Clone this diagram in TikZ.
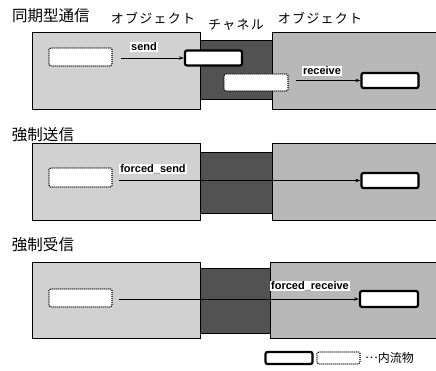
\documentclass[tikz,border=0pt]{standalone}
\usepackage{fontspec}
\setmainfont{Liberation Sans}
\newfontfamily\jp{Noto Sans CJK JP}
\newfontfamily\jpw[LetterSpace=10]{Noto Sans CJK JP}
\usetikzlibrary{arrows.meta}
\definecolor{objL}{gray}{0.82}
\definecolor{objR}{gray}{0.72}
\definecolor{chan}{gray}{0.32}
\tikzset{
  objbox/.style={draw=black,line width=0.7pt},
  dotbox/.style={draw=black,dash pattern=on 1pt off 1pt,line width=1.1pt,fill=white,rounded corners=1.5pt,inner sep=0pt},
  thickbox/.style={draw=black,line width=2.2pt,fill=white,rounded corners=2pt,inner sep=0pt},
  msg/.style={-{Stealth[length=5pt,width=3.5pt]},line width=0.9pt},
  lbl/.style={font=\bfseries\fontsize{11}{12}\selectfont,fill=white,inner sep=0.8pt},
  ttl/.style={font=\jp\fontsize{15.5}{16}\selectfont,inner sep=0pt},
  hdr/.style={font=\jpw\fontsize{13}{14}\selectfont,inner sep=0pt}
}
\begin{document}
\begin{tikzpicture}[x=1pt,y=-1pt]
\useasboundingbox (0,0) rectangle (436,371);
\fill[white] (0,0) rectangle (436,371);
% ---------- panel 1 ----------
\node[ttl] (t1) at (51,16) {同期型通信};
\node[hdr] (h1) at (153,18) {オブジェクト};
\node[hdr] (h2) at (236,25) {チャネル};
\node[hdr] (h3) at (320,18) {オブジェクト};
\filldraw[objbox,fill=objL] (32,32) rectangle (200,109);
\filldraw[objbox,fill=chan] (200,40) rectangle (272,99);
\filldraw[objbox,fill=objR] (272,32) rectangle (440,109);
\node[dotbox,minimum width=63pt,minimum height=18pt] (d1) at (80.5,57) {};
\node[thickbox,minimum width=57pt,minimum height=15pt] (k1) at (213.5,58) {};
\node[dotbox,minimum width=64pt,minimum height=17pt] (d1b) at (256,82.5) {};
\node[thickbox,minimum width=57pt,minimum height=15pt] (k1b) at (390,80.5) {};
\draw[msg] ([xshift=8pt]d1.east |- k1.west) -- (k1.west);
\node[lbl] (l1) at (144,47) {send};
\draw[msg] ([xshift=7pt]d1b.east |- k1b.west) -- (k1b.west);
\node[lbl] (l2) at (322,71) {receive};
% ---------- panel 2 ----------
\node[ttl] (t2) at (43,135) {強制送信};
\filldraw[objbox,fill=objL] (32,143) rectangle (200,220);
\filldraw[objbox,fill=chan] (200,152) rectangle (272,213);
\filldraw[objbox,fill=objR] (272,143) rectangle (440,220);
\node[dotbox,minimum width=63pt,minimum height=19pt] (d2) at (80.5,177.5) {};
\node[thickbox,minimum width=57pt,minimum height=15pt] (k2) at (390,180.5) {};
\draw[msg] ([xshift=6pt]d2.east |- k2.west) -- (k2.west);
\node[lbl] (l3) at (153,169) {forced\_send};
% ---------- panel 3 ----------
\node[ttl] (t3) at (43,245) {強制受信};
\filldraw[objbox,fill=objL] (32,262) rectangle (200,338);
\filldraw[objbox,fill=chan] (200,268) rectangle (272,333);
\filldraw[objbox,fill=objR] (270,262) rectangle (440,338);
\node[dotbox,minimum width=63pt,minimum height=18pt] (d3) at (80.5,298) {};
\node[thickbox,minimum width=58pt,minimum height=16pt] (k3) at (389,299) {};
\draw[msg] ([xshift=6pt]d3.east |- k3.west) -- (k3.west);
\node[lbl] (l4) at (310,286) {forced\_receive};
% ---------- legend ----------
\node[thickbox,minimum width=47pt,minimum height=12pt] (g1) at (289,358) {};
\node[dotbox,minimum width=43pt,minimum height=12pt] (g2) at (338.5,358) {};
\node[font=\jp\fontsize{12}{12}\selectfont,anchor=west,inner sep=0pt] (g3) at (365,358) {\raisebox{0.35em}{…}内流物};
\end{tikzpicture}
\end{document}
